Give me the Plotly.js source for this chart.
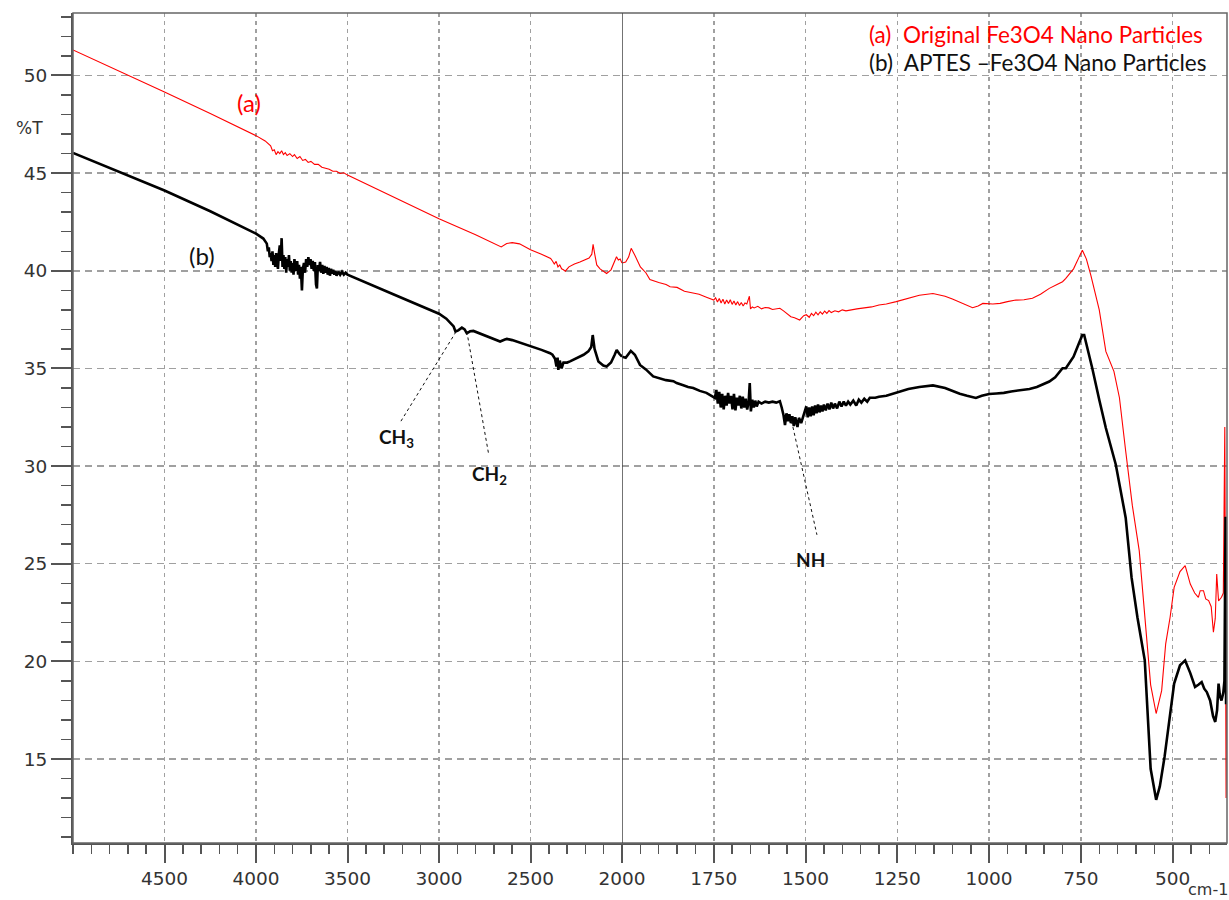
<!DOCTYPE html>
<html>
<head>
<meta charset="utf-8">
<script src="https://cdn.plot.ly/plotly-3.0.1.min.js"></script>
<style>html,body{margin:0;padding:0;background:#fff;}#chart{width:1229px;height:900px;}</style>
</head>
<body>
<div id="chart"></div>
<script>
// Wavenumber (cm-1) and %T for (a) original Fe3O4
const wnA = [5000,4750,4500,4250,4000,3950,3920,3910,3900,3890,3880,3870,3860,3850,3840,3830,3815,3800,3790,3775,3760,3745,3730,3715,3700,3680,3660,3640,3620,3600,3580,3560,3540,3520,3500,3250,3000,2800,2660,2630,2600,2560,2500,2440,2390,2380,2370,2360,2350,2340,2330,2320,2310,2290,2260,2230,2200,2180,2165,2158,2150,2138,2120,2100,2084,2060,2040,2030,2020,2010,2000,
1990,1982,1975,1965,1950,1935,1924,1900,1880,1869,1850,1830,1806,1790,1770,1750,1745,1740,1735,1730,1725,1720,1715,1710,1705,1700,1695,1690,1685,1680,1675,1670,1665,1660,1653,1650,1645,1640,1630,1620,1610,1600,1590,1580,1570,1560,1552,1540,1530,1516,1505,1498,1490,1484,1478,1472,1466,1460,1454,1448,1442,1436,1430,1420,1410,1400,1390,1380,1370,1360,1340,1320,1300,1280,1253,1220,1190,1153,1120,1100,1080,1060,1045,1030,1017,990,970,950,927,905,882,860,836,815,800,791,770,755,746,735,723,700,682,660,645,628,610,591,573,560,545,530,519,507,496,480,466,452,440,430,425,416,410,402,395,389,384,380,375,367,362,358,356,354.5,353];
const tA = [51.31,50.24,49.16,48.05,46.92,46.65,46.40,46.15,46.20,45.95,46.10,46.00,46.15,45.95,46.05,45.90,46.00,45.85,45.95,45.75,45.85,45.65,45.70,45.55,45.60,45.45,45.45,45.30,45.25,45.20,45.10,45.10,44.98,45.02,44.90,43.78,42.67,41.85,41.22,41.40,41.44,41.38,41.08,40.85,40.63,40.50,40.35,40.48,40.20,40.30,40.10,40.05,39.98,40.20,40.35,40.45,40.55,40.65,40.85,41.35,40.90,40.30,40.10,39.95,39.86,40.05,40.50,40.72,40.55,40.60,40.40,
40.45,40.70,41.15,40.80,40.20,39.90,39.55,39.40,39.30,39.18,39.15,38.95,38.84,38.80,38.65,38.50,38.62,38.40,38.58,38.35,38.55,38.30,38.50,38.32,38.52,38.28,38.45,38.25,38.42,38.22,38.38,38.20,38.35,38.30,38.70,38.05,38.15,38.10,38.18,38.05,38.12,38.10,38.02,38.05,38.08,37.95,37.82,37.65,37.60,37.48,37.70,37.75,37.62,37.82,37.70,37.88,37.74,37.90,37.78,37.94,37.82,37.96,37.86,37.95,37.90,38.00,37.95,37.99,38.02,38.05,38.10,38.15,38.25,38.30,38.42,38.60,38.75,38.84,38.70,38.55,38.40,38.22,38.11,38.20,38.33,38.30,38.33,38.42,38.50,38.52,38.59,38.80,39.10,39.30,39.44,39.61,40.10,40.70,41.05,40.60,39.78,38.00,35.87,34.85,33.50,30.77,28.00,25.66,21.60,18.80,17.33,18.50,20.90,22.26,23.79,24.60,24.90,23.96,23.50,23.28,23.62,23.62,23.20,23.11,22.80,21.49,22.20,24.47,23.10,23.28,23.50,32.00,22.00,13.00,20.00];

// Wavenumber (cm-1) and %T for (b) APTES-Fe3O4
const wnB = [5000,4750,4500,4250,4000,3960,3941,3935,3930,3925,3920,3915,3910,3905,3900,3895,3890,3885,3880,3875,3870,3865,3860,3855,3850,3845,3840,3835,3830,3825,3820,3815,3810,3805,3800,3795,3790,3785,3780,3775,3770,3765,3760,3755,3749,3744,3738,3732,3726,3720,3714,3708,3702,3696,3690,3684,3678,3672,3667,3662,3656,3650,3644,3638,3632,3626,3620,3614,3608,3602,3596,3590,3584,3578,3572,3566,3560,3550,3540,3530,3520,3510,3500,3250,3000,2960,2935,2920,2910,2895,2875,2860,2848,2830,2812,2750,2666,2640,2629,2600,2550,2493,2440,2393,2380,2366,2358,2352,2348,2340,2330,2320,2300,2284,2240,2210,2184,2168,2160,2150,2129,2110,2102,2084,2060,2040,2029,2015,2000,
1990,1976,1965,1951,1935,1915,1900,1880,1860,1851,1835,1820,1806,1788,1770,1747,1743,1739,1735,1731,1727,1723,1719,1715,1711,1707,1703,1699,1695,1691,1687,1683,1679,1675,1671,1667,1663,1659,1655,1652,1649,1645,1641,1637,1633,1628,1620,1610,1600,1590,1580,1570,1565,1560,1556,1552,1548,1544,1540,1536,1532,1528,1522,1518,1512,1506,1502,1498,1494,1490,1486,1482,1478,1474,1470,1466,1462,1458,1454,1450,1445,1440,1435,1430,1425,1420,1414,1408,1402,1396,1390,1384,1378,1370,1362,1355,1348,1340,1332,1325,1310,1300,1280,1253,1220,1190,1153,1120,1100,1080,1060,1036,1020,1000,980,960,940,909,890,870,850,836,820,800,791,770,755,746,741,730,719,700,682,655,628,612,596,576,560,545,535,522,508,496,480,466,452,439,430,421,414,407,398,390,384,379,375,371,367,362,359,356,354.5,353];
const tB = [46.04,45.08,44.11,43.05,41.90,41.65,41.39,41.00,41.20,40.70,40.90,40.50,41.00,40.30,40.80,40.20,40.90,40.40,40.10,40.90,41.30,40.50,41.67,40.20,40.80,40.10,40.70,39.90,40.60,40.20,40.80,40.00,40.50,39.90,40.40,39.80,40.60,40.20,40.00,40.50,39.80,40.30,39.60,40.20,39.00,40.10,40.40,39.90,40.60,40.20,40.70,40.30,40.60,40.10,40.50,40.00,40.45,39.30,39.10,40.30,40.00,40.45,39.90,40.30,39.85,40.25,39.90,40.20,39.80,40.15,39.75,40.10,39.85,40.05,39.80,40.00,39.75,39.95,39.80,39.95,39.80,39.90,39.80,38.80,37.80,37.55,37.31,37.15,36.89,36.95,37.09,37.00,36.80,36.90,36.92,36.68,36.38,36.48,36.51,36.45,36.30,36.12,35.95,35.78,35.70,35.50,35.10,35.55,34.93,35.40,35.00,35.30,35.30,35.36,35.55,35.70,35.87,36.10,36.71,36.00,35.36,35.20,35.15,35.10,35.30,35.70,35.95,35.75,35.60,
35.55,35.90,35.70,35.18,34.95,34.59,34.50,34.40,34.35,34.25,34.15,34.05,34.00,33.85,33.75,33.49,33.90,33.20,33.80,33.00,33.70,32.90,33.60,33.10,33.75,33.20,33.60,32.90,33.70,32.85,33.50,33.10,33.60,32.95,33.55,33.00,33.45,32.90,33.30,34.25,32.80,33.40,33.00,33.35,33.05,33.30,33.20,33.30,33.25,33.30,33.25,33.32,33.00,32.60,32.10,32.70,32.30,32.65,32.20,32.55,32.05,32.50,32.00,32.47,32.20,32.60,32.90,33.06,32.50,33.00,32.55,33.05,32.60,33.10,32.70,33.15,32.75,33.10,32.80,33.15,32.85,33.20,32.90,33.25,32.95,33.20,32.95,33.30,33.05,33.30,33.10,33.30,33.15,33.35,33.10,33.40,33.25,33.45,33.30,33.50,33.50,33.55,33.60,33.74,33.95,34.05,34.13,34.00,33.85,33.70,33.60,33.49,33.60,33.69,33.72,33.75,33.82,33.91,33.95,34.05,34.20,34.33,34.55,35.01,35.01,35.60,36.30,36.71,36.71,35.90,35.01,33.40,31.95,30.08,27.36,24.30,22.26,20.05,14.50,12.91,13.60,15.12,17.00,18.86,19.80,20.05,19.40,18.69,18.80,18.94,18.60,18.43,18.00,17.20,16.90,17.50,18.86,18.20,18.00,18.40,19.00,27.40,17.80,22.00];

// Axis ticks
const leftTicks = [4500,4000,3500,3000,2500,2000];
const rightTicks = [1750,1500,1250,1000,750,500];
const yTicks = [15,20,25,30,35,40,45,50];

// Peak labels: [text, axis, x, y] and leader lines [axis, x0, y0, x1, y1]
const peakLabels = [
  ['CH<sub>3</sub>', 'x', 3231, 31.44],
  ['CH<sub>2</sub>', 'x', 2726, 29.56],
  ['NH', 'x2', 1486, 25.22]
];
const leaders = [
  ['x', 3208, 32.30, 2906, 36.89],
  ['x', 2848, 36.89, 2730, 30.68],
  ['x2', 1538, 32.30, 1469, 26.48]
];

function split(wn, t, left) {
  const xs = [], ys = [];
  for (let i = 0; i < wn.length; i++) {
    if ((left && wn[i] >= 2000) || (!left && wn[i] <= 2000)) { xs.push(wn[i]); ys.push(t[i]); }
  }
  return {xs, ys};
}

const traces = [];
const series = [
  {wn: wnA, t: tA, color: '#ff0000', width: 1.1},
  {wn: wnB, t: tB, color: '#000000', width: 2.6}
];
series.forEach(s => {
  [true, false].forEach(left => {
    const p = split(s.wn, s.t, left);
    traces.push({
      x: p.xs, y: p.ys, type: 'scatter', mode: 'lines',
      xaxis: left ? 'x' : 'x2', yaxis: 'y',
      line: {color: s.color, width: s.width},
      hoverinfo: 'skip', showlegend: false
    });
  });
});

const tickFont = {family: 'DejaVu Sans, sans-serif', size: 18.5, color: '#333'};
const gridCol = '#a0a0a0';
const split0 = 549 / 1154;

const xCommon = {
  showline: true, linecolor: '#555', linewidth: 2,
  ticks: 'outside', ticklen: 18, tickwidth: 2, tickcolor: '#555',
  showgrid: true, gridcolor: gridCol, gridwidth: 1.5, griddash: '4px,4px',
  zeroline: false, tickfont: tickFont, tickmode: 'array', anchor: 'y'
};

const annotations = [
  {xref: 'paper', yref: 'paper', x: 0.688, y: 0.974, xanchor: 'left', yanchor: 'middle', showarrow: false,
   text: '(a)  Original Fe3O4 Nano Particles', font: {family: 'Lato, sans-serif', size: 22.5, color: '#ff0000'}},
  {xref: 'paper', yref: 'paper', x: 0.688, y: 0.940, xanchor: 'left', yanchor: 'middle', showarrow: false,
   text: '(b)  APTES –Fe3O4 Nano Particles', font: {family: 'Lato, sans-serif', size: 22.5, color: '#111'}},
  {xref: 'x', yref: 'y', x: 4036, y: 48.64, showarrow: false, text: '(a)',
   font: {family: 'Lato, sans-serif', size: 24, color: '#ff0000'}},
  {xref: 'x', yref: 'y', x: 4293, y: 40.78, showarrow: false, text: '(b)',
   font: {family: 'Lato, sans-serif', size: 24, color: '#111'}},
  {xref: 'paper', yref: 'y', x: -0.038, y: 47.31, yanchor: 'middle', xanchor: 'center', showarrow: false,
   text: '%T', font: {family: 'DejaVu Sans, sans-serif', size: 17, color: '#333'}},
  {xref: 'paper', yref: 'paper', x: 1.0017, y: -0.0683, xanchor: 'right', yanchor: 'bottom', showarrow: false,
   borderpad: 0, text: 'cm-1', font: {family: 'DejaVu Sans, sans-serif', size: 16, color: '#333'}}
];

peakLabels.forEach(p => annotations.push({
  xref: p[1], yref: 'y', x: p[2], y: p[3], showarrow: false, text: '<b>' + p[0] + '</b>',
  font: {family: 'Lato, sans-serif', size: 19, color: '#111'}
}));

const shapes = [
  {type: 'rect', xref: 'paper', yref: 'paper', x0: 0, x1: 1, y0: 0, y1: 1, line: {color: '#666', width: 1.5}},
  {type: 'line', xref: 'x2', yref: 'paper', x0: 2000, x1: 2000, y0: 0, y1: 1, line: {color: '#444', width: 1.5}}
];
leaders.forEach(l => shapes.push({
  type: 'line', xref: l[0], yref: 'y', x0: l[1], y0: l[2], x1: l[3], y1: l[4],
  line: {color: '#111', width: 1, dash: 'dot'}
}));

const layout = {
  width: 1229, height: 900,
  margin: {l: 73, r: 2, t: 13, b: 57},
  paper_bgcolor: '#fff', plot_bgcolor: '#fff',
  showlegend: false,
  xaxis: Object.assign({}, xCommon, {
    domain: [0, split0], range: [5000, 2000], tickvals: leftTicks,
    minor: {ticks: 'outside', ticklen: 9, tickwidth: 1.5, tickcolor: '#555', tickmode: 'linear', tick0: 0, dtick: 100, showgrid: false}
  }),
  xaxis2: Object.assign({}, xCommon, {
    domain: [split0, 1], range: [2000, 352], tickvals: rightTicks,
    minor: {ticks: 'outside', ticklen: 9, tickwidth: 1.5, tickcolor: '#555', tickmode: 'linear', tick0: 0, dtick: 50, showgrid: false}
  }),
  yaxis: {
    range: [10.7, 53.2], tickmode: 'array', tickvals: yTicks, anchor: 'x',
    showline: true, linecolor: '#555', linewidth: 2,
    ticks: 'outside', ticklen: 20, tickwidth: 2, tickcolor: '#555',
    showgrid: true, gridcolor: gridCol, gridwidth: 1.5, griddash: '7px,5px',
    zeroline: false, tickfont: tickFont,
    minor: {ticks: 'outside', ticklen: 10, tickwidth: 1.5, tickcolor: '#555', tickmode: 'linear', tick0: 0, dtick: 1, showgrid: false}
  },
  annotations: annotations,
  shapes: shapes
};

Plotly.newPlot('chart', traces, layout, {displayModeBar: false, staticPlot: true});
</script>
</body>
</html>
